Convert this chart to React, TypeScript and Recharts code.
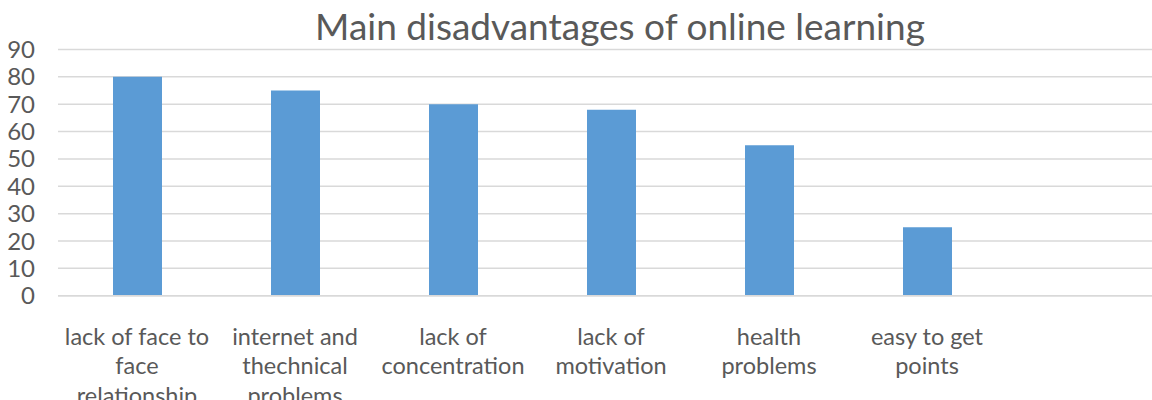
import React from "react";
import { BarChart, Bar, XAxis, YAxis, CartesianGrid } from "recharts";

const categories = ["c1", "c2", "c3", "c4", "c5", "c6", "c7"];
const categoryLines: string[][] = [
  ["lack of face to", "face", "relationship"],
  ["internet and", "thechnical", "problems"],
  ["lack of", "concentration"],
  ["lack of", "motivation"],
  ["health", "problems"],
  ["easy to get", "points"],
  [],
];
const values: (number | null)[] = [80, 75, 70, 68, 55, 25, null];
const yTicks = [0, 10, 20, 30, 40, 50, 60, 70, 80, 90];

const data = categories.map((c, i) => ({ name: c, idx: i, value: values[i] }));

const FONT = "Lato, 'Open Sans', sans-serif";
const TEXT = "#595959";

const XTick = (props: any) => {
  const { x, y, payload } = props;
  const lines = categoryLines[payload.index] || [];
  return (
    <text x={x} y={y} textAnchor="middle" fill={TEXT} fontFamily={FONT} fontSize={23.5}>
      {lines.map((l, i) => (
        <tspan key={i} x={x} y={y + 41 + i * 29.5}>
          {l}
        </tspan>
      ))}
    </text>
  );
};

export default function App() {
  return (
    <div
      style={{
        position: "absolute",
        left: 0,
        top: 0,
        width: 1152,
        height: 400,
        overflow: "hidden",
        background: "#fff",
      }}
    >
      <div
        style={{
          position: "absolute",
          left: 0,
          width: 1240,
          top: 6,
          textAlign: "center",
          fontFamily: FONT,
          fontSize: 37,
          color: TEXT,
          lineHeight: "40px",
          whiteSpace: "nowrap",
        }}
      >
        Main disadvantages of online learning
      </div>
      <BarChart
        width={1164}
        height={400}
        data={data}
        margin={{ top: 49.5, right: 0, bottom: 0, left: 0 }}
        barSize={49}
      >
        <CartesianGrid horizontal vertical={false} stroke="#D9D9D9" strokeWidth={1.5} />
        <XAxis
          dataKey="name"
          height={104.3}
          axisLine={{ stroke: "#D9D9D9", strokeWidth: 1.5 }}
          tickLine={false}
          interval={0}
          tick={<XTick />}
        />
        <YAxis
          width={58}
          domain={[0, 90]}
          ticks={yTicks}
          axisLine={false}
          tickLine={false}
          tickSize={0}
          tickMargin={23}
          tick={{ fill: TEXT, fontFamily: FONT, fontSize: 24 }}
          interval={0}
        />
        <Bar dataKey="value" fill="#5B9BD5" isAnimationActive={false} />
      </BarChart>
    </div>
  );
}
